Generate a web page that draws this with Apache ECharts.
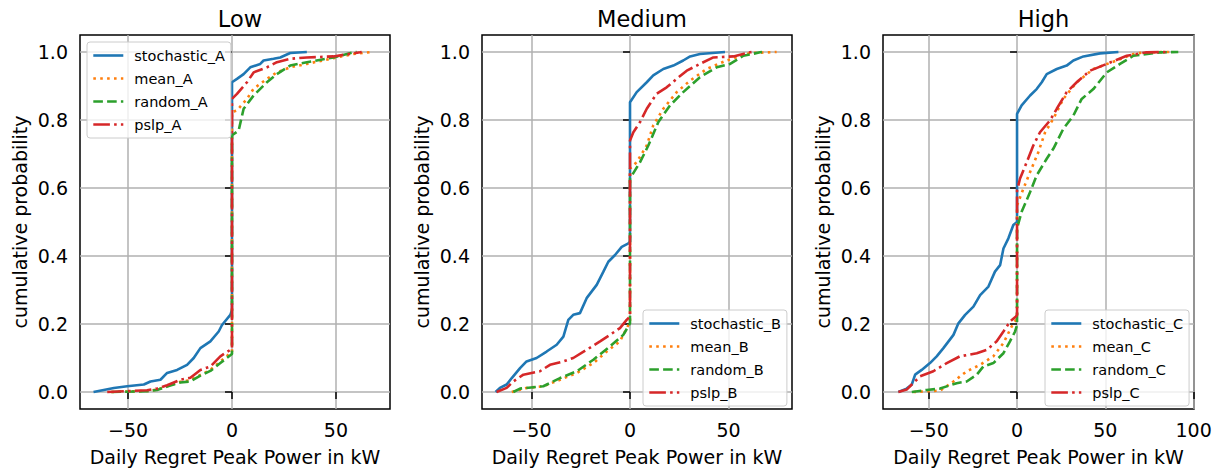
<!DOCTYPE html>
<html>
<head>
<meta charset="utf-8">
<script src="https://cdn.jsdelivr.net/npm/echarts@6/dist/echarts.min.js"></script>
<style>
html,body{margin:0;padding:0;background:#fff;}
#c{width:1218px;height:471px;}
</style>
</head>
<body>
<div id="c"></div>
<script>
// ---- panel titles & axis texts ----
const panelTitles = ['Low', 'Medium', 'High'];
const xAxisTitle = 'Daily Regret Peak Power in kW';
const yAxisTitle = 'cumulative probability';
const yTicks = [0, 0.2, 0.4, 0.6, 0.8, 1.0];
const xTicksLow = [-50, 0, 50];
const xTicksMedium = [-50, 0, 50];
const xTicksHigh = [-50, 0, 50, 100];
const xRangeLow = [-73.1, 76];
const xRangeMedium = [-75.1, 82.2];
const xRangeHigh = [-75.9, 100.2];
const yRange = [-0.05, 1.05];

// ---- Low (A) ----
const stochastic_A = [[-66.6,0],[-56.8,0.012],[-50.4,0.017],[-42.4,0.022],[-39.2,0.031],[-34.4,0.036],[-31.2,0.056],[-26.4,0.065],[-21.6,0.08],[-18.4,0.1],[-15.2,0.129],[-10.4,0.149],[-6.4,0.178],[-4.8,0.197],[-0.8,0.227],[0,0.241],[0,0.911],[2.4,0.921],[5.6,0.935],[8.8,0.955],[13.6,0.965],[15.2,0.975],[20,0.98],[23.2,0.984],[28,0.997],[36,1.0]];
const mean_A = [[-58,0],[-40.8,0.003],[-36,0.007],[-31.2,0.017],[-24.8,0.03],[-20,0.035],[-15.2,0.05],[-10.4,0.065],[-5.6,0.09],[-0.8,0.114],[0,0.118],[0,0.823],[2.4,0.828],[7.2,0.862],[10.4,0.892],[16.8,0.921],[21.6,0.94],[28,0.955],[36,0.965],[48.8,0.982],[58.4,0.994],[67.2,1.0]];
const random_A = [[-58,0],[-40.8,0.002],[-36,0.006],[-31.2,0.016],[-24.8,0.028],[-20,0.031],[-15.2,0.048],[-10.4,0.062],[-5.6,0.085],[-0.8,0.108],[0,0.112],[0,0.755],[3.2,0.769],[5.6,0.833],[10.4,0.872],[16.8,0.911],[21.6,0.935],[28,0.96],[36,0.97],[48.8,0.984],[58.4,0.999],[60,1.0]];
const pslp_A = [[-60,0],[-40.8,0.005],[-36,0.01],[-31.2,0.02],[-24.8,0.036],[-20,0.042],[-15.2,0.065],[-10.4,0.075],[-5.6,0.105],[-0.8,0.124],[0,0.126],[0,0.862],[2.4,0.877],[7.2,0.911],[10.4,0.94],[16.8,0.955],[21.6,0.97],[28,0.98],[36,0.984],[48.8,0.987],[61.6,0.999],[62.4,1.0]];

// ---- Medium (B) ----
const stochastic_B = [[-68.2,0],[-66,0.012],[-62.6,0.022],[-60,0.041],[-55.8,0.07],[-52.5,0.09],[-47.4,0.1],[-42.3,0.119],[-37.2,0.139],[-33.8,0.163],[-31.3,0.212],[-28.8,0.227],[-25.4,0.232],[-22,0.276],[-16.9,0.315],[-13.5,0.354],[-11,0.383],[-7.6,0.403],[-4.2,0.427],[-0.8,0.437],[0,0.442],[0,0.852],[3.4,0.882],[8.5,0.911],[11.8,0.931],[16.9,0.95],[22,0.96],[27,0.975],[30.5,0.987],[35.5,0.994],[48.2,1.0]];
const mean_B = [[-60,0],[-52.5,0.012],[-44,0.017],[-35.5,0.036],[-27,0.056],[-18.6,0.085],[-11.8,0.119],[-5.1,0.149],[-0.8,0.197],[0,0.202],[0,0.657],[3.4,0.676],[8.5,0.725],[11.8,0.784],[16.9,0.833],[23.7,0.882],[30.5,0.916],[38.9,0.95],[49,0.975],[60.9,0.997],[74.4,1.0]];
const random_B = [[-59.2,0],[-55.8,0.01],[-44,0.017],[-35.5,0.041],[-27,0.061],[-18.6,0.095],[-10.2,0.134],[-3.4,0.168],[0,0.202],[0,0.628],[5.1,0.676],[9.3,0.725],[14.4,0.794],[20.3,0.843],[27,0.882],[35.5,0.926],[44,0.955],[50.8,0.965],[57.5,0.989],[66,0.999],[67,1.0]];
const pslp_B = [[-67.7,0],[-62.6,0.012],[-59.2,0.031],[-54.1,0.051],[-45.7,0.061],[-40.6,0.08],[-33.8,0.09],[-28.8,0.1],[-22,0.124],[-15.2,0.149],[-10.2,0.168],[-5.1,0.188],[-1.7,0.212],[0,0.222],[0,0.74],[1.7,0.764],[5.1,0.794],[8.5,0.833],[13.5,0.877],[18.6,0.896],[23.7,0.921],[28.8,0.945],[35.5,0.965],[42.3,0.984],[52.5,0.987],[60.9,0.999],[62,1.0]];

// ---- High (C) ----
const stochastic_C = [[-67.2,0],[-62.5,0.01],[-59.6,0.022],[-57.7,0.051],[-54,0.065],[-49.3,0.085],[-45.5,0.105],[-41.7,0.129],[-36,0.168],[-33.2,0.202],[-29.4,0.227],[-24.7,0.251],[-20.9,0.285],[-16.2,0.31],[-12.5,0.354],[-9.6,0.373],[-7.7,0.422],[-4.9,0.452],[-2.1,0.491],[0,0.5],[0,0.818],[2.6,0.843],[7.4,0.872],[11.1,0.891],[14,0.911],[16.8,0.935],[22.5,0.95],[28.1,0.96],[31.9,0.975],[37.6,0.987],[47,0.996],[57.4,1.0]];
const mean_C = [[-58.7,0],[-43.6,0.004],[-36,0.031],[-28.5,0.061],[-20.9,0.08],[-13.4,0.105],[-7.7,0.144],[-3,0.193],[0,0.217],[0,0.549],[3.6,0.598],[7.4,0.647],[12.1,0.706],[15.9,0.764],[20.6,0.804],[26.2,0.862],[33.8,0.911],[43.2,0.95],[56.4,0.975],[65.9,0.994],[71.5,0.999],[87.6,1.0]];
const random_C = [[-59.6,0],[-51.1,0.006],[-43.6,0.01],[-34.2,0.026],[-28.5,0.031],[-22.8,0.051],[-19.1,0.075],[-13.4,0.085],[-7.7,0.114],[-4,0.149],[-1.1,0.178],[0,0.197],[0,0.481],[2.6,0.53],[7.4,0.588],[11.1,0.637],[16.8,0.686],[20.6,0.716],[26.2,0.774],[31.9,0.813],[36.6,0.862],[43.2,0.891],[50.8,0.94],[58.3,0.965],[65.9,0.989],[80.9,0.999],[91.3,1.0]];
const pslp_C = [[-67.2,0],[-62.5,0.007],[-59.6,0.022],[-54.9,0.046],[-47.4,0.061],[-39.8,0.085],[-32.3,0.105],[-22.8,0.114],[-17.2,0.124],[-11.5,0.149],[-7.7,0.178],[-4,0.207],[-0.6,0.222],[0,0.227],[0,0.593],[1.7,0.628],[5.5,0.676],[9.2,0.725],[13,0.764],[18.7,0.799],[22.5,0.833],[28.1,0.882],[33.8,0.911],[41.3,0.945],[50.8,0.965],[62.1,0.989],[73.4,0.999],[86.6,1.0]];

// ---- build chart ----
const FONT = 'DejaVu Sans';
const LW = 2.6;
const styles = {
  stochastic: {color: '#1f77b4', type: 'solid'},
  mean: {color: '#ff7f0e', type: [2.6, 4.3]},
  random: {color: '#2ca02c', type: [9.6, 4.2]},
  pslp: {color: '#d62728', type: [16.6, 4.2, 2.6, 4.2]}
};
const panels = [
  {title: panelTitles[0], ticks: xTicksLow, range: xRangeLow, suffix: 'A',
   series: {stochastic: stochastic_A, mean: mean_A, random: random_A, pslp: pslp_A},
   grid: {left: 80, top: 35, width: 310, height: 376}, legend: {left: 87, top: 42}},
  {title: panelTitles[1], ticks: xTicksMedium, range: xRangeMedium, suffix: 'B',
   series: {stochastic: stochastic_B, mean: mean_B, random: random_B, pslp: pslp_B},
   grid: {left: 482, top: 35, width: 310, height: 376}, legend: {left: 643, top: 310}},
  {title: panelTitles[2], ticks: xTicksHigh, range: xRangeHigh, suffix: 'C',
   series: {stochastic: stochastic_C, mean: mean_C, random: random_C, pslp: pslp_C},
   grid: {left: 883, top: 35, width: 311, height: 376}, legend: {left: 1045, top: 310}}
];
const fmt = v => (v < 0 ? '\u2212' + Math.abs(v) : String(v));

const option = {animation: false, backgroundColor: '#fff', title: [], grid: [], xAxis: [], yAxis: [], series: [], legend: []};
panels.forEach((p, i) => {
  option.grid.push(Object.assign({show: true, borderColor: '#000', borderWidth: 1.5, backgroundColor: 'transparent', containLabel: false}, p.grid));
  option.title.push({text: p.title, left: p.grid.left + p.grid.width / 2, top: 2, textAlign: 'center',
    textStyle: {fontFamily: FONT, fontSize: 22.5, fontWeight: 'normal', color: '#000'}});
  option.xAxis.push({type: 'value', gridIndex: i, min: p.range[0], max: p.range[1],
    name: xAxisTitle, nameLocation: 'middle', nameGap: 38,
    nameTextStyle: {fontFamily: FONT, fontSize: 19, color: '#000'},
    axisLine: {show: false},
    axisTick: {show: true, inside: false, length: 7, lineStyle: {color: '#000', width: 1.5}, customValues: p.ticks},
    axisLabel: {show: true, margin: 11, fontFamily: FONT, fontSize: 19, color: '#000', formatter: fmt, customValues: p.ticks},
    splitLine: {show: true, lineStyle: {color: '#b0b0b0', width: 1.5}}});
  option.yAxis.push({type: 'value', gridIndex: i, min: yRange[0], max: yRange[1],
    name: yAxisTitle, nameLocation: 'middle', nameGap: 51,
    nameTextStyle: {fontFamily: FONT, fontSize: 19, color: '#000'},
    axisLine: {show: false},
    axisTick: {show: true, inside: false, length: 7, lineStyle: {color: '#000', width: 1.5}, customValues: yTicks},
    axisLabel: {show: true, margin: 12, fontFamily: FONT, fontSize: 19, color: '#000', formatter: v => v.toFixed(1), customValues: yTicks},
    splitLine: {show: true, lineStyle: {color: '#b0b0b0', width: 1.5}}});
  const names = [];
  ['stochastic', 'mean', 'random', 'pslp'].forEach(k => {
    const name = k + '_' + p.suffix;
    names.push(name);
    option.series.push({type: 'line', name: name, xAxisIndex: i, yAxisIndex: i, data: p.series[k],
      symbol: 'none', showSymbol: false, smooth: false, z: 3,
      lineStyle: {color: styles[k].color, width: LW, type: styles[k].type, cap: 'butt'},
      itemStyle: {color: styles[k].color}});
  });
  option.legend.push({data: names, orient: 'vertical', left: p.legend.left, top: p.legend.top,
    itemWidth: 30, itemHeight: 14, itemGap: 8, selectedMode: false,
    itemStyle: {opacity: 0},
    lineStyle: {width: LW},
    padding: [6, 6, 6, 5], backgroundColor: 'rgba(255,255,255,0.8)', borderColor: '#cccccc', borderWidth: 1, borderRadius: 3,
    textStyle: {fontFamily: FONT, fontSize: 14.5, color: '#000', padding: [0, 0, 0, 6]}});
});

const chart = echarts.init(document.getElementById('c'), null, {renderer: 'svg'});
chart.setOption(option);
</script>
</body>
</html>
